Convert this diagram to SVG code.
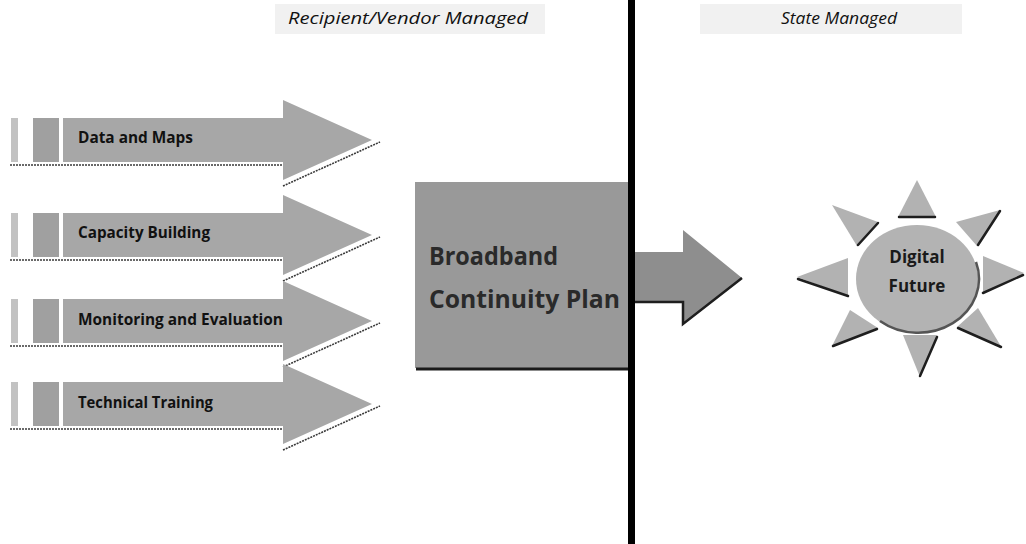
<svg xmlns="http://www.w3.org/2000/svg" xmlns:xlink="http://www.w3.org/1999/xlink" width="1026" height="544" viewBox="0 0 1026 544">
<style>
.hdrbox{fill:#f1f1f1;}
.hdr{font-family:"Open Sans","Liberation Sans",sans-serif;font-style:italic;font-size:16px;fill:#111;}
.lbl{font-family:"Open Sans","Liberation Sans",sans-serif;font-weight:bold;font-size:16px;fill:#111;}
.big{font-family:"Open Sans","Liberation Sans",sans-serif;font-weight:bold;font-size:25px;fill:#2a2a2a;}
.sunlbl{font-family:"Open Sans","Liberation Sans",sans-serif;font-weight:bold;font-size:17px;fill:#1a1a1a;text-anchor:middle;}
.arrowfill{fill:#a7a7a7;}
.stripeA{fill:#c2c2c2;}
.stripeB{fill:#a0a0a0;}
.shadow{fill:none;stroke:#3a3a3a;stroke-width:1.6;stroke-dasharray:2 1;}
.ray{fill:#b2b2b2;}
.rayedge{fill:none;stroke:#1e1e1e;stroke-width:2.5;stroke-linecap:round;}
</style>
<defs>
<g id="larrow">
<rect class="stripeA" x="11" y="0" width="7" height="44"/>
<rect class="stripeB" x="33" y="0" width="26" height="44"/>
<path class="arrowfill" d="M63,0 H283 V-18 L372,22 L283,62 V44 H63 Z"/>
<path class="shadow" d="M10,47 H283 M283,68 L380,24"/>
</g>
</defs>

<g id="header-left">
<rect class="hdrbox" x="275" y="4" width="270" height="30"/>
<text class="hdr" x="288" y="24" textLength="240" lengthAdjust="spacingAndGlyphs">Recipient/Vendor Managed</text>
</g>
<g id="header-right">
<rect class="hdrbox" x="700" y="4" width="262" height="30"/>
<text class="hdr" x="781" y="24" textLength="116" lengthAdjust="spacingAndGlyphs">State Managed</text>
</g>

<g id="arrow-data">
<use xlink:href="#larrow" transform="translate(0,118)"/>
<text class="lbl" x="78" y="143" textLength="115" lengthAdjust="spacingAndGlyphs">Data and Maps</text>
</g>
<g id="arrow-capacity">
<use xlink:href="#larrow" transform="translate(0,213)"/>
<text class="lbl" x="78" y="238" textLength="132" lengthAdjust="spacingAndGlyphs">Capacity Building</text>
</g>
<g id="arrow-monitoring">
<use xlink:href="#larrow" transform="translate(0,299)"/>
<text class="lbl" x="78" y="325" textLength="205" lengthAdjust="spacingAndGlyphs">Monitoring and Evaluation</text>
</g>
<g id="arrow-training">
<use xlink:href="#larrow" transform="translate(0,382)"/>
<text class="lbl" x="78" y="408" textLength="135" lengthAdjust="spacingAndGlyphs">Technical Training</text>
</g>

<g id="plan-box">
<rect x="415" y="182" width="216" height="186" fill="#999999"/>
<line x1="416" y1="369" x2="631" y2="369" stroke="#1a1a1a" stroke-width="3"/>
<text class="big" x="429" y="265" textLength="129" lengthAdjust="spacingAndGlyphs">Broadband</text>
<text class="big" x="429" y="308" textLength="191" lengthAdjust="spacingAndGlyphs">Continuity Plan</text>
</g>

<g id="connectors">
<path d="M635,252 H683 V230 L742,278 L683,324 V302 H635 Z" fill="#8e8e8e"/>
<path d="M635,302 H683 V324 L742,278" fill="none" stroke="#1e1e1e" stroke-width="2.5"/>
</g>

<g id="divider">
<rect x="628" y="0" width="7" height="544" fill="#000"/>
</g>

<g id="sun">
<polygon class="ray" points="917,180 898,217 936,217"/>
<line class="rayedge" x1="899" y1="217" x2="935" y2="217"/>
<polygon class="ray" points="920,377 903,335 937,335"/>
<line class="rayedge" x1="937" y1="337" x2="920" y2="376"/>
<polygon class="ray" points="797,277 848,258 848,296"/>
<line class="rayedge" x1="798" y1="279" x2="848" y2="296"/>
<polygon class="ray" points="1024,273 983,256 983,293"/>
<line class="rayedge" x1="983" y1="293" x2="1023" y2="275"/>
<polygon class="ray" points="832,205 878,222 857,246"/>
<line class="rayedge" x1="878" y1="223" x2="858" y2="245"/>
<polygon class="ray" points="1000,210 956,222 977,246"/>
<line class="rayedge" x1="1000" y1="211" x2="978" y2="245"/>
<polygon class="ray" points="832,346 850,310 878,328"/>
<line class="rayedge" x1="833" y1="346" x2="877" y2="329"/>
<polygon class="ray" points="1002,348 978,308 957,327"/>
<line class="rayedge" x1="958" y1="328" x2="1001" y2="347"/>
<ellipse cx="917" cy="279" rx="61" ry="54" fill="#b3b3b3"/>
<path d="M976,262 A61,54 0 0 1 880,321" fill="none" stroke="#555" stroke-width="2.5"/>
<text class="sunlbl" x="917" y="263">Digital</text>
<text class="sunlbl" x="917" y="292">Future</text>
</g>
</svg>
